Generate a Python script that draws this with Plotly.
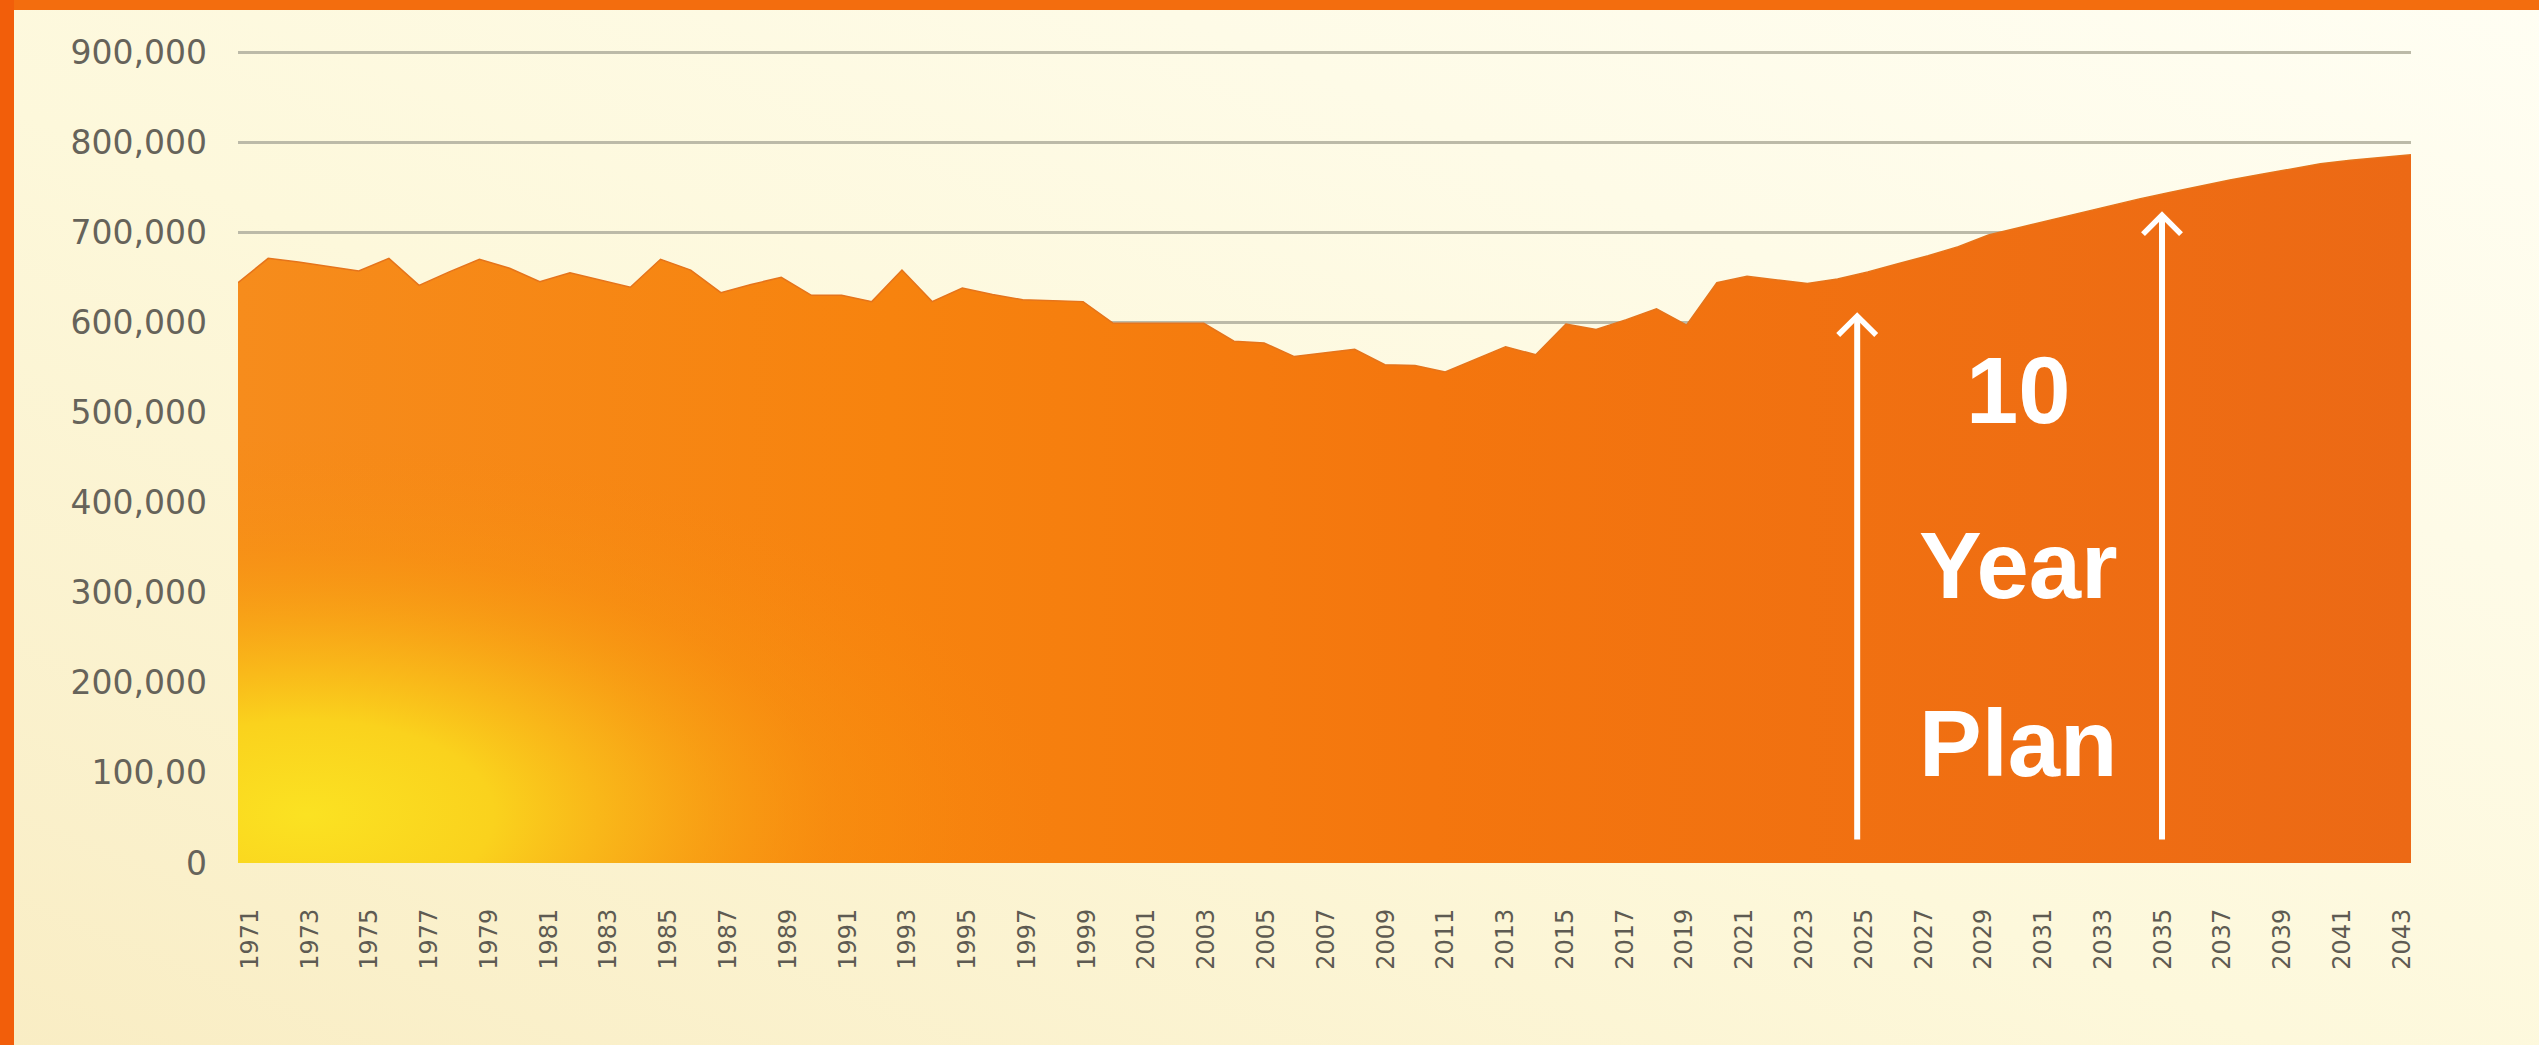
import base64
import plotly.graph_objects as go

# Annual figures, 1971-2043 (recorded to 2024, planned thereafter)
years = list(range(1971, 2044))
values = [
    644000, 671000, 667000, 662000, 657000, 671000, 641000, 656000, 670000, 660000,  # 1971-1980
    645000, 655000, 647000, 639000, 670000, 658000, 633000, 642000, 650000, 630000,  # 1981-1990
    630000, 623000, 658000, 623000, 638000, 631000, 625000, 624000, 623000, 599000,  # 1991-2000
    599000, 599000, 599000, 579000, 577000, 562000, 566000, 570000, 553000, 552000,  # 2001-2010
    545000, 559000, 573000, 564000, 598000, 592000, 603000, 615000, 597000, 644000,  # 2011-2020
    651000, 647000, 643000, 648000, 656000, 665000, 674000, 684000, 697000, 705000,  # 2021-2030
    713000, 721000, 729000, 737000, 744000, 751000, 758000, 764000, 770000, 776000,  # 2031-2040
    780000, 783000, 786000,                                                          # 2041-2043
]

x_tick_years = list(range(1971, 2044, 2))
y_tick_values = [0, 100000, 200000, 300000, 400000, 500000, 600000, 700000, 800000, 900000]
y_tick_text = ["0", "100,00", "200,000", "300,000", "400,000", "500,000",
               "600,000", "700,000", "800,000", "900,000"]

plan_label = ["10", "Year", "Plan"]
plan_start, plan_end = 2024.65, 2034.75

# Canvas and plot-area geometry (pixels)
W, H = 2539, 1045
L, R, T, B = 238, 2411, 43, 863
pw, ph = R - L, B - T


def svg_uri(svg):
    return "data:image/svg+xml;base64," + base64.b64encode(svg.encode()).decode()


# Page background: warm cream wash with orange frame on top and left
bg_svg = f"""<svg xmlns='http://www.w3.org/2000/svg' width='{W}' height='{H}' viewBox='0 0 {W} {H}' preserveAspectRatio='none'>
<defs><linearGradient id='g' x1='0' y1='1' x2='1' y2='0'>
<stop offset='0' stop-color='#F9EDC4'/><stop offset='0.45' stop-color='#FDF8DB'/><stop offset='1' stop-color='#FFFEF3'/>
</linearGradient></defs>
<rect width='{W}' height='{H}' fill='url(#g)'/>
<rect x='0' y='0' width='{W}' height='10' fill='#F36D0E'/>
<rect x='0' y='0' width='14' height='{H}' fill='#F25E0A'/>
</svg>"""

# Warm yellow glow in the lower-left of the filled area
glow_svg = """<svg xmlns='http://www.w3.org/2000/svg' width='1012' height='513' viewBox='0 0 1012 513' preserveAspectRatio='none'>
<defs><radialGradient id='y' cx='0.068' cy='0.906' r='0.74' gradientUnits='objectBoundingBox'>
<stop offset='0' stop-color='#FBE222' stop-opacity='1'/>
<stop offset='0.25' stop-color='#FAD21D' stop-opacity='1'/>
<stop offset='0.45' stop-color='#F9B418' stop-opacity='0.85'/>
<stop offset='0.7' stop-color='#F8980F' stop-opacity='0.4'/>
<stop offset='1' stop-color='#F8880E' stop-opacity='0'/>
</radialGradient></defs>
<rect width='1012' height='513' fill='url(#y)'/>
</svg>"""

fig = go.Figure()

fig.add_trace(go.Scatter(
    x=years,
    y=values,
    mode="lines",
    fill="tozeroy",
    line=dict(color="#E5741C", width=1.5),
    fillgradient=dict(
        type="horizontal",
        colorscale=[[0, "#F68C1C"], [0.3, "#F7830E"], [0.55, "#F4760E"], [1, "#EC6915"]],
    ),
    hoverinfo="skip",
    showlegend=False,
))

# Empty trace so the label axis is laid out
fig.add_trace(go.Scatter(x=[], y=[], xaxis="x2", showlegend=False, hoverinfo="skip"))

shapes = []
for xpos, tip in ((plan_start, 607000), (plan_end, 719000)):
    shapes.append(dict(type="line", xref="x", yref="y", x0=xpos, x1=xpos, y0=26000, y1=tip - 3000,
                       line=dict(color="white", width=6), layer="above"))
    shapes.append(dict(type="path", xref="x", yref="y", xsizemode="pixel", ysizemode="pixel",
                       xanchor=xpos, yanchor=tip, path="M -19,-19 L 0,0 L 19,-19",
                       line=dict(color="white", width=5.5), layer="above"))

annotations = []
for text, yv in zip(plan_label, (524000, 330000, 133000)):
    annotations.append(dict(x=2030.0, y=yv, xref="x", yref="y", text=text,
                            showarrow=False,
                            font=dict(family="Liberation Sans, Arial, sans-serif", size=94,
                                      color="white", weight="bold")))

tick_font = dict(family="DejaVu Sans, sans-serif", size=24, color="#5E5B52")

fig.update_layout(
    width=W, height=H,
    margin=dict(l=L, r=W - R, t=T, b=H - B, pad=0),
    paper_bgcolor="#FDF8DC",
    plot_bgcolor="rgba(0,0,0,0)",
    showlegend=False,
    shapes=shapes,
    annotations=annotations,
    images=[
        dict(source=svg_uri(bg_svg), xref="paper", yref="paper",
             x=-L / pw, y=B / ph, sizex=W / pw, sizey=H / ph,
             xanchor="left", yanchor="top", sizing="stretch", layer="below"),
        dict(source=svg_uri(glow_svg), xref="x", yref="y",
             x=1971, y=569000, sizex=33.5, sizey=569000,
             xanchor="left", yanchor="top", sizing="stretch", layer="above"),
    ],
    xaxis=dict(
        range=[1971, 2043],
        showticklabels=False,
        showgrid=False,
        zeroline=False,
        showline=False,
        ticks="",
        fixedrange=True,
    ),
    # Year labels sit on a slightly wider overlay axis
    xaxis2=dict(
        range=[1970.6, 2043.3],
        overlaying="x",
        anchor="y",
        side="bottom",
        tickmode="array",
        tickvals=x_tick_years,
        ticktext=[str(v) for v in x_tick_years],
        tickangle=-90,
        showgrid=False,
        zeroline=False,
        showline=False,
        ticks="",
        ticklabelstandoff=40,
        tickfont=tick_font,
        fixedrange=True,
    ),
    yaxis=dict(
        range=[0, 910000],
        tickmode="array",
        tickvals=y_tick_values,
        ticktext=y_tick_text,
        showgrid=True,
        gridcolor="#BCBAA8",
        gridwidth=2.5,
        zeroline=False,
        showline=False,
        ticks="",
        ticklabelstandoff=30,
        tickfont=dict(family="DejaVu Sans, sans-serif", size=33, color="#66635A"),
        fixedrange=True,
    ),
)

fig.write_html("out.html", config={"displayModeBar": False})
